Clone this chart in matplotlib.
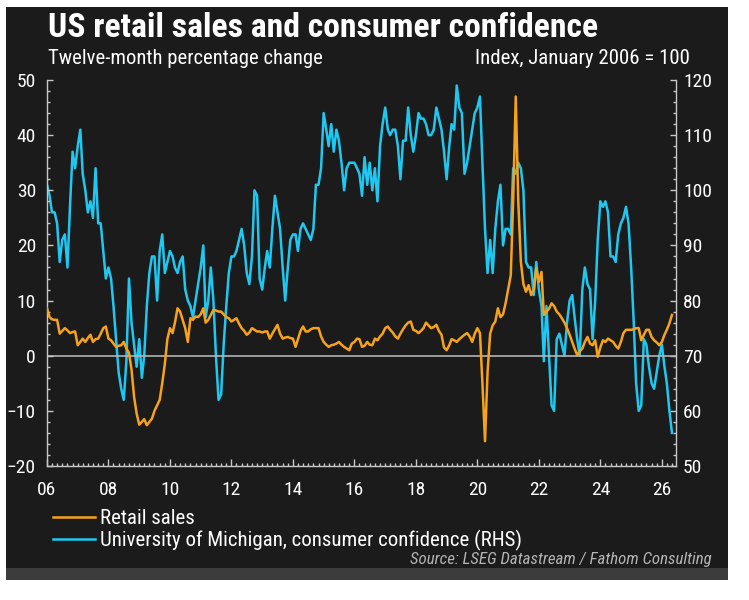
import pandas as pd
import matplotlib
matplotlib.use('Agg')
import matplotlib.pyplot as plt
import matplotlib.dates as mdates
from matplotlib import font_manager as fm
from matplotlib.patches import Rectangle
from matplotlib.ticker import MultipleLocator

# look for a narrow sans face, like the Arial Narrow of the original
entries = fm.fontManager.ttflist
names = {f.name for f in entries}
font, stretch, narrow = 'Liberation Sans', 'normal', False
for n in ['Liberation Sans Narrow', 'Arial Narrow', 'Roboto Condensed',
          'Open Sans Condensed', 'DejaVu Sans Condensed', 'Noto Sans Condensed']:
    if n in names:
        font, narrow = n, True
        break
else:
    for f in entries:
        if str(f.stretch) in ('condensed', 'semi-condensed', 'extra-condensed'):
            font, stretch, narrow = f.name, f.stretch, True
            break
plt.rcParams['font.family'] = [font, 'DejaVu Sans']
plt.rcParams['font.stretch'] = stretch
k = 1.0 if narrow else 0.86   # shrink a wide face so text keeps its length

# monthly data, Jan 2006 - May 2026
dates = pd.date_range('2006-01-01', periods=245, freq='MS')

# retail sales, 12-month % change (LHS)
retail = [
    8.6, 7, 6.6, 6.5, 6.5, 4, 4.5, 5, 4.6, 4.1, 4.3, 4.4,            # 2006
    1.9, 2.5, 3.1, 2.5, 3.2, 3.8, 2.5, 3, 3.1, 4, 5, 5.3,            # 2007
    3.1, 2.8, 2.2, 1.6, 1.8, 1.9, 2.5, 1.3, 0.5, -2.5, -7.5, -10.5,  # 2008
    -12.5, -12, -11.5, -12.6, -12, -11.4, -10, -9, -8, -5, -1.5, 3,  # 2009
    5, 4.1, 6, 8.6, 8, 6.5, 5, 2.5, 6.8, 6.5, 7.1, 7,                # 2010
    7.5, 8.6, 6, 6.5, 7.4, 8.3, 8.2, 8, 8, 7.5, 7, 6.8,              # 2011
    6.2, 6.5, 6.8, 5.8, 5, 4.5, 3.8, 4.2, 5, 4.7, 4.4, 4.4,          # 2012
    4.2, 4.4, 4.4, 3.1, 4, 4.8, 5.6, 4, 3.1, 3.3, 3.4, 3.2,          # 2013
    3.1, 1.6, 3, 4.5, 5.3, 4.4, 4.4, 4.8, 5, 5, 5, 3.5,              # 2014
    2.5, 2, 1.6, 1.9, 2, 2.2, 2.5, 2, 1.6, 1.3, 1, 2.2,              # 2015
    2.5, 3.1, 3, 1.6, 1.8, 2.5, 2, 1.9, 3.1, 2.8, 3.5, 4,            # 2016
    5, 5.3, 4.7, 4.2, 3.5, 3.1, 4, 4.8, 5.5, 6, 6.2, 4.7,            # 2017
    4.5, 4.1, 4.5, 5, 6, 5.5, 5, 5.2, 5.6, 4.5, 3.8, 1.5,            # 2018
    1, 1.9, 3, 2.8, 2.5, 3, 3.4, 3.8, 4.1, 3.5, 2.5, 4,              # 2019
    5, 4.1, -5, -15.5, -3, 4, 5.5, 6.2, 8.6, 7, 7.5, 9.5,            # 2020
    12, 14.6, 28, 47, 28, 17, 13, 11.6, 12.8, 11, 12, 15.9,          # 2021
    13.4, 15.2, 7.4, 8, 8.5, 9.5, 9, 8, 7.5, 6.8, 6, 5,              # 2022
    3.8, 2.5, 1.3, 0.1, 0.8, 1.3, 2.5, 3.4, 2.2, 1.9, 2.8, -0.2,     # 2023
    1.5, 2.8, 2.5, 3.1, 2.8, 2.5, 1.8, 1.3, 2.5, 4.1, 4.7, 4.7,      # 2024
    4.7, 4.8, 5, 5, 2.8, 3.8, 4.7, 4.7, 3.4, 2.8, 2.4, 1.9,          # 2025
    2.5, 3.8, 4.7, 5.9, 7.4,                                         # 2026
]

# University of Michigan consumer confidence, Jan 2006 = 100 (RHS)
confidence = [
    101, 99, 96, 96, 94, 87, 91, 92, 86, 97, 107, 104,          # 2006
    108, 111, 103, 100, 96, 98, 95, 104, 94, 94, 89, 84,        # 2007
    86, 84, 79, 73, 67, 64, 62, 69, 84, 76, 72, 68,             # 2008
    73, 66, 70, 79, 85, 88, 88, 80, 89, 92, 85, 87,             # 2009
    89, 88, 86, 85, 87, 88, 82, 80, 79, 77, 80, 83,             # 2010
    86, 90, 77, 80, 86, 80, 70, 62, 63, 72, 79, 85,             # 2011
    88, 88, 89, 91, 93, 90, 85, 83, 88, 100, 99, 84,            # 2012
    82, 86, 89, 86, 93, 99, 96, 93, 86, 80, 86, 91,             # 2013
    92, 92, 89, 93, 94, 93, 92, 91, 93, 101, 101, 104,          # 2014
    114, 111, 108, 112, 107, 111, 109, 105, 100, 104, 105, 105, # 2015
    105, 104, 103, 99, 106, 101, 105, 100, 104, 98, 108, 112,   # 2016
    115, 111, 110, 111, 111, 108, 102, 109, 109, 115, 110, 107, # 2017
    110, 114, 113, 113, 112, 110, 110, 111, 115, 113, 111, 107, # 2018
    102, 108, 112, 111, 119, 115, 114, 103, 105, 108, 111, 114, # 2019
    115, 117, 105, 93, 85, 91, 85, 93, 98, 101, 90, 93,         # 2020
    93, 92, 104, 103, 105, 104, 100, 87, 86, 86, 81, 87,        # 2021
    82, 79, 69, 79, 70, 61, 60, 73, 74, 72, 70, 76,             # 2022
    80, 81, 77, 73, 70, 82, 86, 83, 82, 73, 80, 91,             # 2023
    98, 97, 98, 96, 88, 88, 87, 92, 94, 95, 97, 94,             # 2024
    86, 76, 65, 60, 61, 73, 72, 68, 65, 64, 67, 70,             # 2025
    72, 68, 65, 60, 56,                                         # 2026
]

BG = '#1b1b1b'
ORANGE = '#f7a21b'
BLUE = '#1ec8f0'
SPINE = '#c8c8c8'

fig = plt.figure(figsize=(7.49, 6.0), dpi=100)
fig.patch.set_facecolor('white')
fig.add_artist(Rectangle((6 / 749, 1 - 568 / 600), 722 / 749, 561 / 600,
                         transform=fig.transFigure, facecolor=BG,
                         edgecolor='none', zorder=-10))
fig.add_artist(Rectangle((6 / 749, 1 - 580 / 600), 722 / 749, 12 / 600,
                         transform=fig.transFigure, facecolor='#3c3c3c',
                         edgecolor='none', zorder=-10))

ax = fig.add_axes([47 / 749, 1 - 466 / 600, 629 / 749, 386 / 600])
ax2 = ax.twinx()
ax.set_zorder(ax2.get_zorder() + 1)
ax.patch.set_visible(False)
ax2.set_facecolor(BG)

ax.axhline(0, color='#b4b4b4', lw=1.2, zorder=1)
l_conf, = ax2.plot(dates, confidence, color=BLUE, lw=1.8,
                   label='University of Michigan, consumer confidence (RHS)')
l_retail, = ax.plot(dates, retail, color=ORANGE, lw=1.8, label='Retail sales', zorder=3)

ax.set_ylim(-20, 50)
ax2.set_ylim(50, 120)
ax.set_xlim(pd.Timestamp('2006-01-01'), pd.Timestamp('2026-06-18'))

tick_fs = 14 * k
for a in (ax, ax2):
    a.yaxis.set_major_locator(MultipleLocator(10))
    a.yaxis.set_minor_locator(MultipleLocator(2))
    a.tick_params(axis='y', which='major', direction='in', length=4, width=1,
                  color=SPINE, labelcolor='white', labelsize=tick_fs)
    a.tick_params(axis='y', which='minor', direction='in', length=2, width=1, color=SPINE)
    for s in a.spines.values():
        s.set_color(SPINE)
        s.set_linewidth(1)
    a.spines['top'].set_visible(False)

ax.spines['right'].set_visible(False)
ax2.spines['left'].set_visible(False)
ax2.spines['bottom'].set_visible(False)
ax.tick_params(axis='y', which='major', pad=8)
ax2.tick_params(axis='y', which='major', pad=5)

ax.xaxis.set_major_locator(mdates.YearLocator(2))
ax.xaxis.set_major_formatter(mdates.DateFormatter('%y'))
ax.xaxis.set_minor_locator(mdates.MonthLocator(bymonth=[1, 3, 5, 7, 9, 11]))
ax.tick_params(axis='x', which='major', direction='in', length=5, width=1,
               color=SPINE, labelcolor='white', labelsize=tick_fs, pad=11)
ax.tick_params(axis='x', which='minor', direction='in', length=2, width=1, color=SPINE)

fig.text(48 / 749, 1 - 37 / 600, 'US retail sales and consumer confidence',
         fontsize=24.2 * k, fontweight='bold', color='white', va='baseline')
fig.text(48 / 749, 1 - 64 / 600, 'Twelve-month percentage change',
         fontsize=14.9 * k, color='white', va='baseline')
fig.text(690 / 749, 1 - 64 / 600, 'Index, January 2006 = 100',
         fontsize=15 * k, color='white', va='baseline', ha='right')
fig.text(712 / 749, 1 - 564 / 600, 'Source: LSEG Datastream / Fathom Consulting',
         fontsize=12.2 * k, style='italic', color='#b4b4b4', va='baseline', ha='right')

fig.legend(handles=[l_retail, l_conf], loc='upper left',
           bbox_to_anchor=(53 / 749, 1 - 509 / 600), frameon=False,
           fontsize=15 * k, labelcolor='white', handlelength=2.0,
           handletextpad=0.25, labelspacing=0.1, borderpad=0, borderaxespad=0)

fig.savefig('out.png', dpi=100, facecolor=fig.get_facecolor())
